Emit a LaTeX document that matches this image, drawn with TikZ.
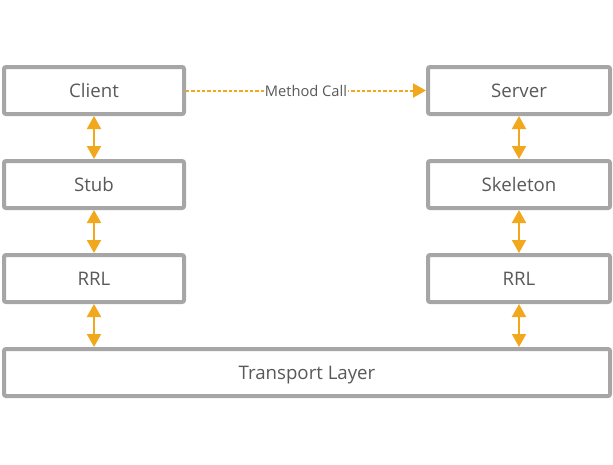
\documentclass[tikz,border=0pt]{standalone}
\usepackage{fontspec}
\setmainfont{Open Sans}
\usetikzlibrary{arrows.meta}
\definecolor{boxgray}{HTML}{A6A6A6}
\definecolor{txtgray}{HTML}{595959}
\definecolor{arrorange}{HTML}{F2A81D}
\tikzset{
  layerbox/.style={draw=boxgray, line width=3pt, rounded corners=1.5pt, fill=white,
    text=txtgray, font=\fontsize{14}{16}\selectfont, inner sep=0pt, anchor=north west,
    text height=10pt, text depth=0pt},
  dblarrow/.style={draw=arrorange, line width=1.5pt,
    {Triangle[length=9.75pt,width=10.5pt]}-{Triangle[length=9.75pt,width=10.5pt]}},
  callarrow/.style={draw=arrorange, line width=1.5pt, dash pattern=on 2.5pt off 1.5pt,
    -{Triangle[length=9.75pt,width=10.5pt]}},
  calllabel/.style={fill=white, text=txtgray, font=\fontsize{11}{13}\selectfont, inner sep=1pt}
}
\begin{document}
\begin{tikzpicture}[x=0.75pt,y=-0.75pt]
\useasboundingbox (0,0) rectangle (613,464);
% left column
\node[layerbox, minimum width=180*0.75pt, minimum height=47*0.75pt] (client) at (2,65) {Client};
\node[layerbox, minimum width=180*0.75pt, minimum height=47*0.75pt] (stub) at (2,159) {Stub};
\node[layerbox, minimum width=180*0.75pt, minimum height=47*0.75pt] (rrl1) at (2,253) {RRL};
% right column
\node[layerbox, minimum width=182*0.75pt, minimum height=47*0.75pt] (server) at (426,65) {Server};
\node[layerbox, minimum width=182*0.75pt, minimum height=47*0.75pt] (skel) at (426,159) {Skeleton};
\node[layerbox, minimum width=182*0.75pt, minimum height=47*0.75pt] (rrl2) at (426,253) {RRL};
% transport
\node[layerbox, minimum width=606*0.75pt, minimum height=47*0.75pt] (trans) at (2,347) {Transport Layer};
% vertical arrows
\draw[dblarrow] (client.south) -- (stub.north);
\draw[dblarrow] (stub.south) -- (rrl1.north);
\draw[dblarrow] (server.south) -- (skel.north);
\draw[dblarrow] (skel.south) -- (rrl2.north);
\coordinate (tl) at (trans.north -| rrl1.south);
\coordinate (tr) at (trans.north -| rrl2.south);
\draw[dblarrow] (rrl1.south) -- (tl);
\draw[dblarrow] (rrl2.south) -- (tr);
% method call
\draw[callarrow] (client.east) -- node[calllabel] (mc) {Method Call} (server.west);
\end{tikzpicture}
\end{document}
